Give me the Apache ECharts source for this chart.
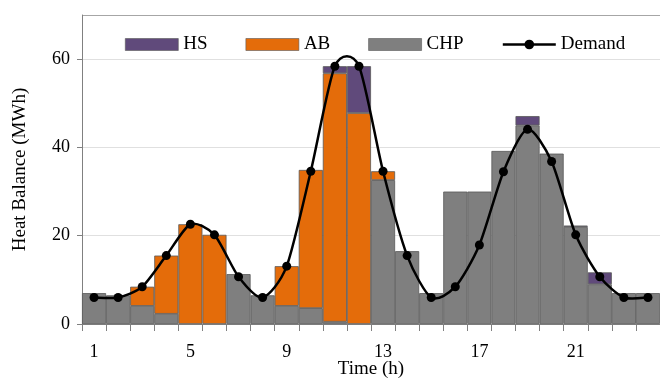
<!DOCTYPE html>
<html>
<head>
<meta charset="utf-8">
<script src="https://cdn.jsdelivr.net/npm/echarts@6/dist/echarts.min.js"></script>
<style>
  html, body { margin: 0; padding: 0; background: #fff; }
  #main { width: 660px; height: 379px; }
</style>
</head>
<body>
<div id="main"></div>
<script>
var hours = ['1','2','3','4','5','6','7','8','9','10','11','12','13','14','15','16','17','18','19','20','21','22','23','24'];
var chp = [7.0, 6.5, 4.1, 2.3, 0, 0, 11.3, 6.5, 4.1, 3.6, 0.5, 0, 32.6, 16.5, 7.0, 30.0, 30.0, 39.2, 45.0, 38.6, 22.0, 9.0, 7.0, 7.0];
var ab = [0, 0, 4.35, 13.2, 22.6, 20.2, 0, 0, 9.0, 31.3, 56.3, 47.8, 2.0, 0, 0, 0, 0, 0, 0, 0, 0, 0, 0, 0];
var hs = [0, 0, 0, 0, 0, 0, 0, 0, 0, 0, 1.6, 10.6, 0, 0, 0, 0, 0, 0, 2.1, 0, 0.3, 2.7, 0, 0];
var demand = [6.0, 6.0, 8.45, 15.5, 22.6, 20.2, 10.7, 6.0, 13.1, 34.6, 58.4, 58.4, 34.6, 15.5, 6.0, 8.45, 17.9, 34.5, 44.1, 36.8, 20.2, 10.7, 6.0, 6.0];

// zero parts are not drawn (no empty border line)
function noZero(arr) {
  return arr.map(function (v) { return v === 0 ? '-' : v; });
}

// spreadsheet-style smoothed curve (cardinal spline) between demand points i and i+1
var SMOOTH_DIV = 8;
function renderDemandCurve(params, api) {
  var i = params.dataIndex;
  var n = demand.length;
  if (i >= n - 1) return null;
  var pt = function (k) {
    k = Math.max(0, Math.min(n - 1, k));
    return api.coord([k, demand[k]]);
  };
  var p0 = pt(i - 1), p1 = pt(i), p2 = pt(i + 1), p3 = pt(i + 2);
  return {
    type: 'bezierCurve',
    shape: {
      x1: p1[0], y1: p1[1],
      x2: p2[0], y2: p2[1],
      cpx1: p1[0] + (p2[0] - p0[0]) / SMOOTH_DIV, cpy1: p1[1] + (p2[1] - p0[1]) / SMOOTH_DIV,
      cpx2: p2[0] - (p3[0] - p1[0]) / SMOOTH_DIV, cpy2: p2[1] - (p3[1] - p1[1]) / SMOOTH_DIV
    },
    style: { stroke: '#000', lineWidth: 2.5, fill: null }
  };
}

var chart = echarts.init(document.getElementById('main'));
var serif = 'Liberation Serif';
var barBorder = { borderColor: '#595959', borderWidth: 0.8 };

chart.setOption({
  animation: false,
  textStyle: { fontFamily: serif },
  grid: { left: 82, right: 0, top: 15, bottom: 55, outerBoundsMode: 'none' },
  legend: {
    top: 30,
    left: 120,
    itemWidth: 53,
    itemHeight: 12,
    itemGap: 38,
    textStyle: { fontFamily: serif, fontSize: 19, color: '#000' },
    data: [
      { name: 'HS', icon: 'rect', itemStyle: { borderWidth: 0.6 } },
      { name: 'AB', icon: 'rect', itemStyle: { borderWidth: 0.6 } },
      { name: 'CHP', icon: 'rect', itemStyle: { borderWidth: 0.6 } },
      { name: 'Demand', lineStyle: { opacity: 1, width: 2.5, color: '#000' } }
    ]
  },
  xAxis: {
    type: 'category',
    data: hours,
    name: 'Time (h)',
    nameLocation: 'middle',
    nameGap: 36,
    nameMoveOverlap: false,
    nameTextStyle: { fontFamily: serif, fontSize: 19, color: '#000' },
    axisLine: { lineStyle: { color: '#808080', width: 1 } },
    axisTick: { show: true, interval: 0, length: 7, lineStyle: { color: '#808080' } },
    axisLabel: { interval: 3, margin: 19, fontFamily: serif, fontSize: 18, color: '#000' }
  },
  yAxis: {
    type: 'value',
    min: 0,
    max: 70,
    interval: 20,
    name: 'Heat Balance (MWh)',
    nameLocation: 'middle',
    nameGap: 52,
    nameMoveOverlap: false,
    nameTextStyle: { fontFamily: serif, fontSize: 19, color: '#000' },
    axisLine: { show: true, lineStyle: { color: '#808080' } },
    axisTick: { show: true, length: 5, lineStyle: { color: '#808080' } },
    axisLabel: { showMaxLabel: false, margin: 12, fontFamily: serif, fontSize: 18, color: '#000' },
    splitLine: { show: true, lineStyle: { color: ['#e0e0e0', '#e0e0e0', '#e0e0e0', '#e0e0e0', '#a6a6a6'], width: 1 } }
  },
  series: [
    { name: 'CHP', type: 'bar', stack: 'heat', data: noZero(chp), barCategoryGap: '0%',
      itemStyle: Object.assign({ color: '#7f7f7f' }, barBorder) },
    { name: 'AB', type: 'bar', stack: 'heat', data: noZero(ab),
      itemStyle: Object.assign({ color: '#e46c0a' }, barBorder) },
    { name: 'HS', type: 'bar', stack: 'heat', data: noZero(hs),
      itemStyle: Object.assign({ color: '#604a7b' }, barBorder) },
    { type: 'custom', data: demand.map(function (v, i) { return [i, v]; }),
      renderItem: renderDemandCurve, z: 4, silent: true },
    { name: 'Demand', type: 'line', data: demand,
      symbol: 'circle', symbolSize: 9, z: 5,
      itemStyle: { color: '#000' },
      lineStyle: { color: '#000', width: 2.5, opacity: 0 } }
  ]
});
</script>
</body>
</html>
